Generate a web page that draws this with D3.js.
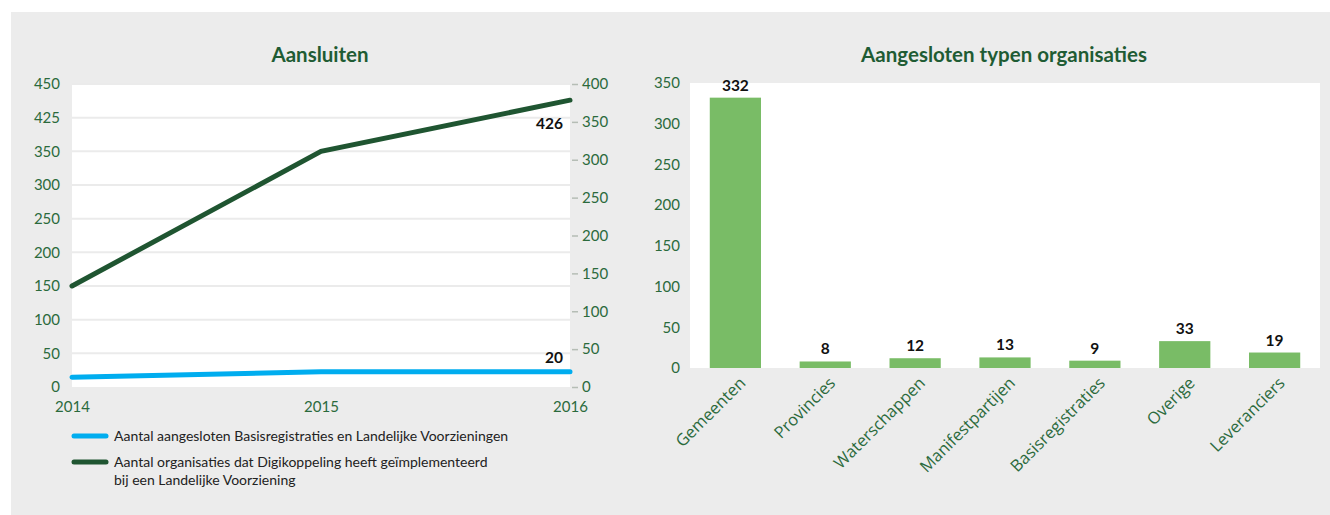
<!DOCTYPE html>
<html><head><meta charset="utf-8">
<script src="https://cdn.jsdelivr.net/npm/d3@7"></script>
<style>
html,body{margin:0;padding:0;background:#fff;}
svg{display:block;font-family:Lato,"Open Sans",sans-serif;}
</style></head>
<body>
<svg id="c" width="1330" height="515"></svg>
<script>
// ---- data ----
const years = ["2014", "2015", "2016"];
const basisValues = [13, 20, 20];          // right axis (0-400)
const organisatieValues = [150, 350, 426]; // left axis
const leftTicks = [0, 50, 100, 150, 200, 250, 300, 350, 400, 450];
const leftTickLabels = ["0", "50", "100", "150", "200", "250", "300", "350", "425", "450"];
const rightTicks = [0, 50, 100, 150, 200, 250, 300, 350, 400];
const legendLabels = [
  ["Aantal aangesloten Basisregistraties en Landelijke Voorzieningen"],
  ["Aantal organisaties dat Digikoppeling heeft geïmplementeerd", "bij een Landelijke Voorziening"]
];
const categories = ["Gemeenten", "Provincies", "Waterschappen", "Manifestpartijen", "Basisregistraties", "Overige", "Leveranciers"];
const barValues = [332, 8, 12, 13, 9, 33, 19];
const barTicks = [0, 50, 100, 150, 200, 250, 300, 350];

const green = "#2b6a3c", titleGreen = "#1f5c34", darkLine = "#1f5531", blue = "#00adef", barColor = "#79bc66";

const svg = d3.select("#c");
svg.append("rect").attr("x", 11).attr("y", 12).attr("width", 1319).attr("height", 503).attr("fill", "#ececec");

// ---------- Left chart ----------
const L = {x0: 72, x1: 570, y0: 387, y1: 84};
const x = d3.scalePoint().domain(years).range([L.x0, L.x1]);
const yL = d3.scaleLinear().domain([0, 450]).range([L.y0, L.y1]);
const yR = d3.scaleLinear().domain([0, 400]).range([L.y0, L.y1]);

svg.append("rect").attr("x", L.x0).attr("y", L.y1).attr("width", L.x1 - L.x0).attr("height", L.y0 - L.y1).attr("fill", "#fff");
svg.append("text").attr("x", 320).attr("y", 62).attr("text-anchor", "middle")
  .attr("font-weight", 700).attr("font-size", 20.5).attr("fill", titleGreen).text("Aansluiten");

// gridlines
svg.append("g").selectAll("line").data(leftTicks.slice(1)).join("line")
  .attr("x1", L.x0).attr("x2", L.x1).attr("y1", d => yL(d)).attr("y2", d => yL(d))
  .attr("stroke", "#ebebeb").attr("stroke-width", 2);

const gL = svg.append("g").attr("transform", `translate(${L.x0},0)`)
  .call(d3.axisLeft(yL).tickValues(leftTicks).tickFormat((d, i) => leftTickLabels[i]).tickSize(0).tickPadding(12));
gL.select(".domain").remove();
gL.selectAll("text").attr("fill", green).attr("font-size", 15).attr("font-family", "Lato");

const gR = svg.append("g").attr("transform", `translate(${L.x1},0)`)
  .call(d3.axisRight(yR).tickValues(rightTicks).tickSize(8).tickPadding(4));
gR.select(".domain").remove();
gR.selectAll("line").attr("stroke", "#b5bdb5").attr("stroke-width", 1.5).attr("x1", 2);
gR.selectAll("text").attr("fill", green).attr("font-size", 15).attr("font-family", "Lato");

const gX = svg.append("g").attr("transform", `translate(0,${L.y0})`)
  .call(d3.axisBottom(x).tickSize(0).tickPadding(14));
gX.select(".domain").remove();
gX.selectAll("text").attr("fill", green).attr("font-size", 15).attr("font-family", "Lato");

const lineL = d3.line().x((d, i) => x(years[i])).y(d => yL(d));
const lineR = d3.line().x((d, i) => x(years[i])).y(d => yR(d));
svg.append("path").attr("d", lineR(basisValues)).attr("fill", "none").attr("stroke", blue)
  .attr("stroke-width", 5).attr("stroke-linecap", "round");
svg.append("path").attr("d", lineL(organisatieValues)).attr("fill", "none").attr("stroke", darkLine)
  .attr("stroke-width", 5).attr("stroke-linecap", "round");

svg.append("text").attr("x", L.x1 - 7).attr("y", yL(organisatieValues[2]) + 29).attr("text-anchor", "end")
  .attr("font-weight", 700).attr("font-size", 15.5).attr("fill", "#111").text(organisatieValues[2]);
svg.append("text").attr("x", L.x1 - 7).attr("y", yR(basisValues[2]) - 9).attr("text-anchor", "end")
  .attr("font-weight", 700).attr("font-size", 15.5).attr("fill", "#111").text(basisValues[2]);

// legend
const legColors = [blue, darkLine];
const legY = [436, 462];
legendLabels.forEach((lines, i) => {
  svg.append("line").attr("x1", 74).attr("x2", 106).attr("y1", legY[i]).attr("y2", legY[i])
    .attr("stroke", legColors[i]).attr("stroke-width", 5).attr("stroke-linecap", "round");
  lines.forEach((t, j) => {
    svg.append("text").attr("x", 114).attr("y", legY[i] + 5 + j * 18).attr("font-size", 14)
      .attr("fill", "#222").text(t);
  });
});

// ---------- Right chart ----------
const R = {x0: 690, x1: 1320, y0: 368, y1: 83};
const xb = d3.scaleBand().domain(categories).range([R.x0, R.x1]).paddingInner(0.43).paddingOuter(0.22);
const yb = d3.scaleLinear().domain([0, 350]).range([R.y0, R.y1]);

svg.append("rect").attr("x", R.x0).attr("y", R.y1).attr("width", R.x1 - R.x0).attr("height", R.y0 - R.y1).attr("fill", "#fff");
svg.append("text").attr("x", 1004).attr("y", 62).attr("text-anchor", "middle")
  .attr("font-weight", 700).attr("font-size", 20.5).attr("fill", titleGreen).text("Aangesloten typen organisaties");

const gB = svg.append("g").attr("transform", `translate(${R.x0},0)`)
  .call(d3.axisLeft(yb).tickValues(barTicks).tickSize(0).tickPadding(10));
gB.select(".domain").remove();
gB.selectAll("text").attr("fill", green).attr("font-size", 15).attr("font-family", "Lato");

svg.append("g").selectAll("rect").data(barValues).join("rect")
  .attr("x", (d, i) => xb(categories[i])).attr("width", xb.bandwidth())
  .attr("y", d => yb(d)).attr("height", d => yb(0) - yb(d)).attr("fill", barColor);

svg.append("g").selectAll("text").data(barValues).join("text")
  .attr("x", (d, i) => xb(categories[i]) + xb.bandwidth() / 2).attr("y", d => yb(d) - 7)
  .attr("text-anchor", "middle").attr("font-weight", 700).attr("font-size", 15.5).attr("fill", "#111").text(d => d);

const gBX = svg.append("g").attr("transform", `translate(0,${R.y0})`)
  .call(d3.axisBottom(xb).tickSize(0).tickPadding(10));
gBX.select(".domain").remove();
gBX.selectAll("text").attr("fill", green).attr("font-size", 16.5).attr("font-family", "Open Sans")
  .attr("text-anchor", "end").attr("dy", "0.35em")
  .attr("transform", "translate(0,5) rotate(-45)");
</script>
</body></html>
